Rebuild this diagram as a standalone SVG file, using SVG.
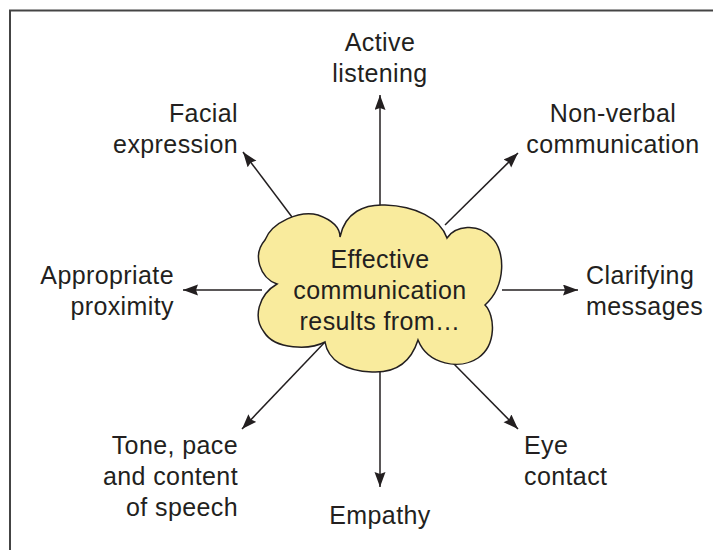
<svg xmlns="http://www.w3.org/2000/svg" width="713" height="550" viewBox="0 0 713 550">
<style>
text{font-family:"Liberation Sans",Arial,Helvetica,sans-serif;font-size:25px;letter-spacing:0.4px;fill:#231f20}
.c{text-anchor:middle}.r{text-anchor:end}.l{text-anchor:start}
.ar{stroke:#231f20;stroke-width:1.5;fill:none;marker-end:url(#ah)}
</style>
<defs>
<marker id="ah" markerUnits="userSpaceOnUse" markerWidth="16" markerHeight="12" refX="15" refY="5.5" orient="auto">
<path d="M0,0 L15,5.5 L0,11 L2,5.5 Z" fill="#231f20"/>
</marker>
</defs>
<rect width="713" height="550" fill="#fff"/>
<path d="M10,550 V10.5 H713" fill="none" stroke="#444" stroke-width="2"/>
<g id="connectors">
<line class="ar" x1="380" y1="207" x2="380" y2="95"/>
<line class="ar" x1="292" y1="217" x2="243" y2="152"/>
<line class="ar" x1="445" y1="225" x2="518" y2="153"/>
<line class="ar" x1="262" y1="290" x2="183" y2="290"/>
<line class="ar" x1="502" y1="290" x2="578" y2="290"/>
<line class="ar" x1="325" y1="342" x2="242" y2="429"/>
<line class="ar" x1="380" y1="372" x2="380" y2="487"/>
<line class="ar" x1="452" y1="362" x2="518" y2="429"/>
</g>
<g id="center">
<path d="M340,237 C345,212 365,204 385,205 C415,206 440,218 447,238 C455,226 478,222 492,238 C505,250 507,285 485,305 C495,315 497,345 478,358 C460,370 428,365 418,340 C410,365 392,373 372,372 C345,371 328,360 325,342 C310,350 275,350 264,332 C253,318 258,295 277,284 C260,278 252,255 265,240 C272,222 300,210 318,215 C332,220 340,228 340,237 Z" fill="#f9eb9d" stroke="#231f20" stroke-width="1.5"/>
<text class="c" x="380" y="268">Effective</text>
<text class="c" x="380" y="299">communication</text>
<text class="c" x="380" y="330">results from…</text>
</g>
<g id="n-active"><text class="c" x="380" y="51">Active</text><text class="c" x="380" y="82">listening</text></g>
<g id="n-facial"><text class="r" x="238" y="122">Facial</text><text class="r" x="238" y="153">expression</text></g>
<g id="n-nonverbal"><text class="c" x="613" y="122">Non-verbal</text><text class="c" x="613" y="153">communication</text></g>
<g id="n-proximity"><text class="r" x="174" y="284">Appropriate</text><text class="r" x="174" y="315">proximity</text></g>
<g id="n-clarifying"><text class="l" x="586" y="284">Clarifying</text><text class="l" x="586" y="315">messages</text></g>
<g id="n-tone"><text class="r" x="238" y="454">Tone, pace</text><text class="r" x="238" y="485">and content</text><text class="r" x="238" y="516">of speech</text></g>
<g id="n-empathy"><text class="c" x="380" y="524">Empathy</text></g>
<g id="n-eye"><text class="l" x="524" y="454">Eye</text><text class="l" x="524" y="485">contact</text></g>
</svg>
